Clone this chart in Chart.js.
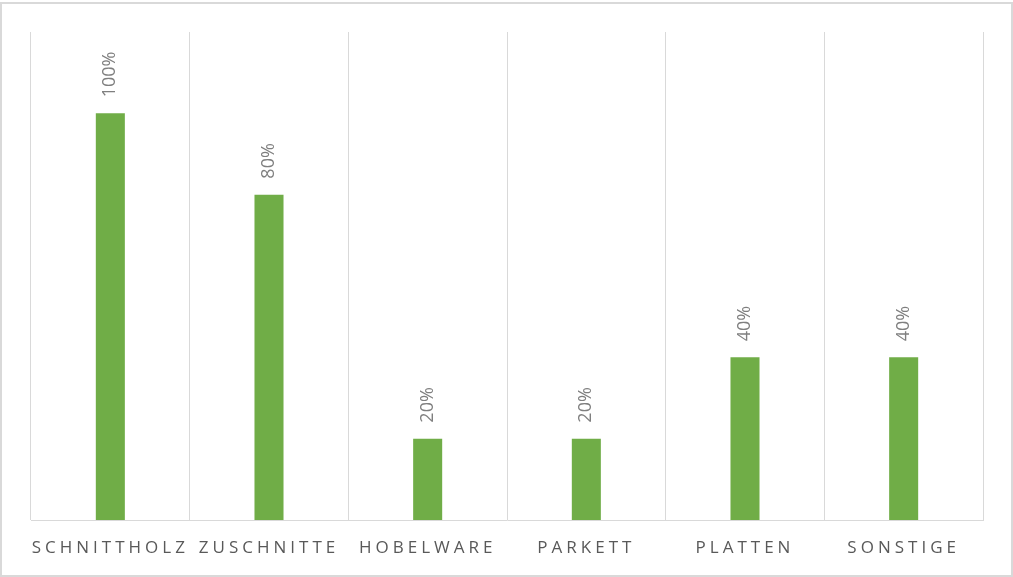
<!DOCTYPE html>
<html>
<head>
<meta charset="utf-8">
<script src="https://cdn.jsdelivr.net/npm/chart.js@4"></script>
<style>
  body { margin: 0; background: #fff; }
  #rahmen { position: absolute; left: 0; top: 2px; width: 1013px; height: 575px; box-sizing: border-box; border: 2px solid #d9d9d9; pointer-events: none; }
  #wrap { position: absolute; left: 0; top: 0; width: 1013px; height: 577px; }
</style>
</head>
<body>
<div id="wrap"><canvas id="grafico" width="1013" height="577"></canvas></div>
<div id="rahmen"></div>
<script>
const kategorien = ["SCHNITTHOLZ", "ZUSCHNITTE", "HOBELWARE", "PARKETT", "PLATTEN", "SONSTIGE"];
const anteile = [100, 80, 20, 20, 40, 40];
const yMin = 0;
const yMax = 120;

const schrift = "'Open Sans', 'Liberation Sans', sans-serif";

// Sperrschrift fuer die Achsenbeschriftung, danach wieder zuruecksetzen
const sperrung = {
    id: "sperrung",
    beforeDraw(chart) {
        chart.ctx.letterSpacing = "4px";
    },
    beforeDatasetsDraw(chart) {
        chart.ctx.letterSpacing = "0px";
    }
};

const wertLabels = {
    id: "wertLabels",
    afterDatasetsDraw(chart) {
        const ctx = chart.ctx;
        const meta = chart.getDatasetMeta(0);
        ctx.save();
        ctx.letterSpacing = "0px";
        ctx.font = "18px " + schrift;
        ctx.fillStyle = "#7f7f7f";
        ctx.textAlign = "left";
        ctx.textBaseline = "middle";
        meta.data.forEach((bar, i) => {
            ctx.save();
            ctx.translate(bar.x, bar.y - 16);
            ctx.rotate(-Math.PI / 2);
            ctx.fillText(anteile[i] + "%", 0, 0);
            ctx.restore();
        });
        ctx.restore();
    }
};

const ctx = document.getElementById("grafico");
new Chart(ctx, {
    type: "bar",
    data: {
        labels: kategorien,
        datasets: [{
            data: anteile,
            backgroundColor: "#70ad47",
            categoryPercentage: 1,
            barPercentage: 0.183
        }]
    },
    options: {
        responsive: false,
        animation: false,
        layout: { padding: { left: 31, right: 30, top: 32, bottom: 0 } },
        plugins: {
            legend: { display: false },
            tooltip: { enabled: false }
        },
        scales: {
            x: {
                offset: true,
                grid: { offset: true, color: "#d9d9d9", lineWidth: 1, drawTicks: false },
                border: { display: true, color: "#d9d9d9", width: 1 },
                ticks: {
                    color: "#595959",
                    font: { family: schrift, size: 17 },
                    padding: 18,
                    maxRotation: 0,
                    autoSkip: false
                },
                afterFit(scale) { scale.height = 57; }
            },
            y: {
                display: false,
                min: yMin,
                max: yMax
            }
        }
    },
    plugins: [sperrung, wertLabels]
});
</script>
</body>
</html>
